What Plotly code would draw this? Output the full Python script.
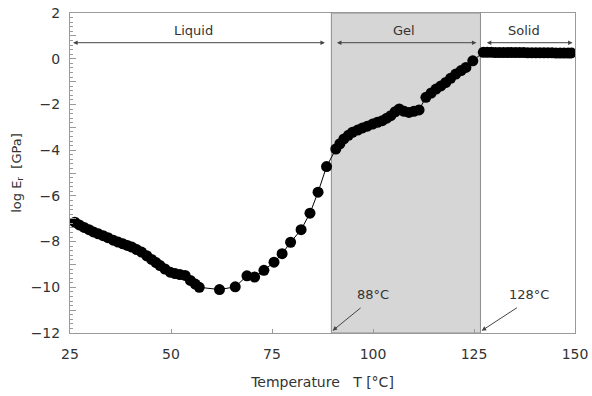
import plotly.graph_objects as go

# ---- data ----
temp_c = [26.2, 27.3, 28.5, 29.7, 30.8, 32.0, 33.2, 34.4, 35.7, 36.9, 38.1, 39.2,
          40.3, 41.5, 42.7, 44.0, 45.2, 46.3, 47.3, 48.5, 49.8, 51.0, 52.2, 53.5,
          54.8, 56.0, 57.0, 62.0, 65.9, 68.8, 70.7, 73.0, 75.5, 77.5, 79.6, 82.2,
          84.4, 86.4, 88.5,
          90.8, 91.8, 92.8, 93.9, 94.9, 96.2, 97.4, 98.6, 99.9, 101.1, 102.3, 103.4,
          104.4, 105.5, 106.5, 107.7, 108.9, 110.1, 111.4, 113.1, 114.4, 115.6,
          116.8, 118.0, 119.2, 120.5, 121.8, 123.0, 124.7,
          127.3, 128.3, 129.3, 130.3, 131.3, 132.3, 133.3, 134.3, 135.3, 136.3,
          137.3, 138.3, 139.3, 140.3, 141.3, 142.3, 143.3, 144.3, 145.3, 146.3,
          147.3, 148.3, 149.1]
log_e = [-7.15, -7.27, -7.38, -7.48, -7.58, -7.66, -7.74, -7.83, -7.94, -8.02, -8.10, -8.17,
         -8.24, -8.35, -8.46, -8.62, -8.78, -8.92, -9.05, -9.20, -9.34, -9.40, -9.44, -9.48,
         -9.70, -9.86, -10.00, -10.10, -9.98, -9.50, -9.55, -9.26, -8.90, -8.53, -8.03, -7.48,
         -6.76, -5.84, -4.72,
         -3.95, -3.72, -3.51, -3.35, -3.22, -3.12, -3.03, -2.95, -2.86, -2.78, -2.71, -2.60,
         -2.49, -2.32, -2.20, -2.30, -2.35, -2.30, -2.24, -1.69, -1.50, -1.33,
         -1.19, -1.04, -0.86, -0.67, -0.52, -0.38, -0.09,
         0.28, 0.28, 0.28, 0.27, 0.27, 0.27, 0.27, 0.27, 0.27, 0.27,
         0.27, 0.26, 0.26, 0.26, 0.26, 0.26, 0.26, 0.26, 0.25, 0.25,
         0.25, 0.25, 0.25]

gel_start = 89.7
gel_end = 126.6
phase_labels = ["Liquid", "Gel", "Solid"]
phase_label_x = [55.5, 107.6, 137.4]
phase_arrow_x0 = [25.4, 90.7, 127.8]
phase_arrow_x1 = [88.1, 125.6, 149.4]
transition_labels = ["88°C", "128°C"]
transition_text_x = [100.0, 138.7]
transition_tip_x = [gel_start, gel_end]

y_tick_vals = list(range(-12, 3))
y_tick_text = [str(v).replace("-", "−") if v % 2 == 0 else "" for v in y_tick_vals]
x_tick_vals = [25, 50, 75, 100, 125, 150]

FONT = "DejaVu Sans"
TXT = "#333333"
AX = "#9a9a9a"

fig = go.Figure()

fig.add_shape(type="rect", xref="x", yref="y", x0=gel_start, x1=gel_end, y0=-12, y1=2,
              fillcolor="#d6d6d6", line=dict(color="#8c8c8c", width=1), layer="below")

fig.add_trace(go.Scatter(
    x=temp_c, y=log_e, mode="lines+markers",
    line=dict(color="black", width=1),
    marker=dict(color="black", size=11),
    showlegend=False, hoverinfo="x+y"))

for lab, lx in zip(phase_labels, phase_label_x):
    fig.add_annotation(x=lx, y=1.25, xref="x", yref="y", text=lab, showarrow=False,
                       font=dict(family=FONT, size=13, color=TXT))
for x0, x1 in zip(phase_arrow_x0, phase_arrow_x1):
    fig.add_annotation(x=x1, y=0.7, ax=x0, ay=0.7, xref="x", yref="y", axref="x", ayref="y",
                       text="", showarrow=True, arrowside="end+start", arrowhead=2,
                       arrowsize=0.9, arrowwidth=1, arrowcolor="#444444")

for lab, tx, tip in zip(transition_labels, transition_text_x, transition_tip_x):
    fig.add_annotation(x=tx, y=-10.3, xref="x", yref="y", text=lab, showarrow=False,
                       font=dict(family=FONT, size=13, color=TXT))
    fig.add_annotation(x=tip + 0.3, y=-11.9, ax=tx - 2.7, ay=-10.85, xref="x", yref="y",
                       axref="x", ayref="y", text="", showarrow=True, arrowhead=2,
                       arrowsize=0.9, arrowwidth=1, arrowcolor="#444444")

fig.update_layout(
    width=592, height=396,
    margin=dict(l=70, r=17, t=13, b=63),
    paper_bgcolor="white", plot_bgcolor="white",
    font=dict(family=FONT, size=13, color=TXT),
    xaxis=dict(range=[25, 150], tickvals=x_tick_vals, ticks="inside", ticklen=4,
               tickcolor=AX, showline=True, linecolor=AX, linewidth=1, mirror=True,
               showgrid=False, zeroline=False, ticklabelstandoff=8, automargin=False,
               tickfont=dict(family=FONT, size=14, color=TXT),
               title=dict(text="Temperature   T [°C]", standoff=16,
                          font=dict(family=FONT, size=14, color=TXT))),
    yaxis=dict(range=[-12, 2], tickvals=y_tick_vals, ticktext=y_tick_text,
               ticks="inside", ticklen=6, tickcolor=AX,
               minor=dict(dtick=0.2, ticks="inside", ticklen=3, tickcolor=AX),
               showline=True, linecolor=AX, linewidth=1, mirror=True,
               showgrid=False, zeroline=False, ticklabelstandoff=6, automargin=False,
               ticklabeloverflow="allow",
               tickfont=dict(family=FONT, size=14, color=TXT),
               title=dict(text="log E<sub>r</sub>  [GPa]", standoff=6,
                          font=dict(family=FONT, size=13, color=TXT))),
)

fig.write_html("out.html", config={"displayModeBar": False},
               post_script="document.body.style.margin='0';document.body.style.padding='0';")
